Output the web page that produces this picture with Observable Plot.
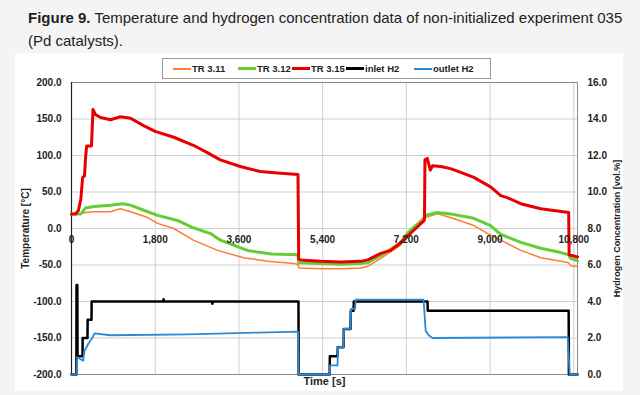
<!DOCTYPE html>
<html>
<head>
<meta charset="utf-8">
<script src="https://cdn.jsdelivr.net/npm/d3@7"></script>
<script src="https://cdn.jsdelivr.net/npm/@observablehq/plot@0.6"></script>
<style>
  html, body { margin: 0; padding: 0; background: #f4f4f4; width: 640px; height: 395px; overflow: hidden; }
  #title { position: absolute; left: 28px; top: 6px; width: 610px; font-family: "Liberation Sans", Arial, sans-serif; font-size: 15px; line-height: 23px; color: #222; white-space: nowrap; }
  #panel { position: absolute; left: 15px; top: 53px; width: 608px; height: 338px; background: #fff; }
  #legend { position: absolute; left: 162px; top: 58px; width: 327px; height: 19px; border: 1px solid #999; background: #fff;
            font-family: "Liberation Sans", Arial, sans-serif; font-size: 9.5px; font-weight: bold; color: #222; }
  .item { position: absolute; top: 0; height: 19px; display: flex; align-items: center; white-space: nowrap; }
  .sw { display: inline-block; width: 18px; height: 2px; margin-right: 1px; }
  #chart { position: absolute; left: 0; top: 78px; }
</style>
</head>
<body>
<div id="title"><b>Figure 9.</b> <span>Temperature and hydrogen concentration data of non-initialized experiment 035</span><br><span>(Pd catalysts).</span></div>
<div id="panel"></div>
<div id="legend"></div>
<div id="chart"></div>
<script>
// ---- data (time in s; temperature in °C; hydrogen in vol.%) ----
const xTicks = [0, 1800, 3600, 5400, 7200, 9000, 10800];
const tempTicks = [-200, -150, -100, -50, 0, 50, 100, 150, 200];
const h2Ticks = [0, 2, 4, 6, 8, 10, 12, 14, 16];
const seriesNames = ["TR 3.11", "TR 3.12", "TR 3.15", "inlet H2", "outlet H2"];
const seriesColors = ["#ff7d32", "#66cc33", "#e80000", "#000000", "#2b8ad8"];

const tr311 = [[0,20],[200,20],[300,22],[480,23],[840,23],[1050,27],[1270,23],[1640,15],[1850,7],[2200,0],[2620,-16],[3140,-30],[3700,-40],[4220,-45],[4780,-48],[4870,-49],[4890,-54],[5360,-55],[5790,-55],[6220,-54],[6370,-52],[6650,-41],[7070,-23],[7230,-8],[7400,5],[7550,14],[7870,20],[8150,15],[8650,4],[8950,-7],[9230,-16],[9660,-30],[10090,-40],[10520,-45],[10690,-47],[10730,-51],[10880,-52]];
const tr312 = [[0,20],[200,20],[300,28],[480,30],[840,32],[1100,34],[1270,32],[1550,25],[1850,18],[2280,11],[2620,1],[2990,-7],[3200,-16],[3780,-30],[4300,-35],[4870,-36],[4885,-47],[5360,-48],[5790,-49],[6220,-48],[6370,-47],[6650,-37],[7070,-20],[7230,-6],[7400,4],[7560,10],[7600,18],[7870,22],[8150,20],[8650,14],[9010,4],[9230,-8],[9660,-19],[10090,-27],[10520,-33],[10690,-36],[10730,-41],[10880,-44]];
const tr315 = [[0,20],[90,20],[150,25],[200,40],[240,70],[280,72],[300,95],[325,113],[430,113],[462,163],[516,156],[624,152],[840,149],[1050,153],[1270,151],[1550,141],[1800,133],[2200,125],[2620,114],[2920,104],[3200,94],[3630,85],[4060,78],[4430,76],[4870,74],[4885,-42],[4930,-43],[5360,-45],[5790,-46],[6220,-45],[6370,-43],[6650,-34],[6860,-30],[7010,-23],[7230,-10],[7400,0],[7550,9],[7590,12],[7600,94],[7650,96],[7715,80],[7765,86],[7940,85],[8150,82],[8370,77],[8650,70],[9010,57],[9230,45],[9380,42],[9660,34],[10090,27],[10450,24],[10690,22],[10700,-36],[10880,-39]];
const inletH2 = [[0,0],[105,0],[108,4.9],[125,4.9],[130,1.0],[237,1.0],[240,2.0],[344,2.0],[347,3.0],[430,3.0],[433,4.0],[1970,4.0],[1980,4.12],[1990,4.0],[3020,4.0],[3030,3.88],[3040,4.0],[4880,4.0],[4885,0],[5550,0],[5555,1.0],[5720,1.0],[5725,1.5],[5850,1.5],[5855,2.5],[6000,2.5],[6005,3.5],[6065,3.5],[6070,4.0],[7655,4.0],[7660,3.5],[10690,3.5],[10695,0],[10880,0]];
const outletH2 = [[0,0],[110,0],[122,0.95],[250,0.75],[280,1.3],[366,1.7],[445,2.0],[495,2.25],[840,2.15],[2500,2.2],[4000,2.3],[4870,2.35],[4885,0],[5550,0],[5560,0.5],[5720,0.5],[5730,1.5],[5850,1.5],[5860,2.5],[6000,2.5],[6010,3.6],[6100,3.6],[6110,4.1],[7570,4.1],[7615,2.4],[7680,2.15],[7765,2.0],[10670,2.05],[10712,0],[10880,0]];

// hydrogen (0–16 vol.%) shares the temperature scale (-200–200 °C)
const h2ToT = h => -200 + h * 25;

const fmtTime = d3.format(",");
const font = '"Liberation Sans", Arial, sans-serif';

const chart = Plot.plot({
  width: 640,
  height: 314,
  marginLeft: 71,
  marginRight: 63,
  marginTop: 4,
  marginBottom: 18,
  style: { fontFamily: font, fontSize: "10px", fontWeight: "bold", color: "#222", background: "transparent" },
  x: { domain: [0, 10880], axis: null },
  y: { domain: [-200, 200], axis: null },
  marks: [
    Plot.gridX(xTicks, { stroke: "#cfcfcf", strokeOpacity: 1 }),
    Plot.gridY(tempTicks, { stroke: "#cfcfcf", strokeOpacity: 1 }),
    Plot.frame({ stroke: "#8a8a8a" }),
    Plot.ruleX([0], { stroke: "#222", strokeWidth: 1.2 }),
    Plot.line(tr311, { x: d => d[0], y: d => d[1], stroke: seriesColors[0], strokeWidth: 1.5 }),
    Plot.line(tr312, { x: d => d[0], y: d => d[1], stroke: seriesColors[1], strokeWidth: 3 }),
    Plot.line(tr315, { x: d => d[0], y: d => d[1], stroke: seriesColors[2], strokeWidth: 3 }),
    Plot.line(inletH2, { x: d => d[0], y: d => h2ToT(d[1]), stroke: seriesColors[3], strokeWidth: 2.5 }),
    Plot.line(outletH2, { x: d => d[0], y: d => h2ToT(d[1]), stroke: seriesColors[4], strokeWidth: 1.8 }),
    Plot.text(xTicks, { x: d => d, y: 0, text: d => fmtTime(d), dy: 11 }),
    Plot.axisY(tempTicks, { anchor: "left", tickSize: 0, tickPadding: 10, tickFormat: d => d.toFixed(1), label: null }),
    Plot.axisY(h2Ticks.map(h2ToT), { anchor: "right", tickSize: 0, tickPadding: 10, tickFormat: d => ((d + 200) / 25).toFixed(1), label: null }),
    Plot.text(["Temperature [°C]"], { frameAnchor: "left", textAnchor: "middle", text: d => d, rotate: -90, dx: -46, fontSize: 10 }),
    Plot.text(["Hydrogen Concentration [vol.%]"], { frameAnchor: "right", textAnchor: "middle", text: d => d, rotate: -90, dx: 40, fontSize: 9 }),
    Plot.text(["Time [s]"], { frameAnchor: "bottom", textAnchor: "middle", text: d => d, dy: 10, fontSize: 11 })
  ]
});
document.getElementById("chart").appendChild(chart);

// legend
const legend = document.getElementById("legend");
const lefts = [10, 75, 129, 183, 251];
seriesNames.forEach((name, i) => {
  const it = document.createElement("div");
  it.className = "item";
  it.style.left = lefts[i] + "px";
  const sw = document.createElement("span");
  sw.className = "sw";
  sw.style.background = seriesColors[i];
  sw.style.height = (i === 1 || i === 2 || i === 3) ? "3px" : "2px";
  it.appendChild(sw);
  it.appendChild(document.createTextNode(name));
  legend.appendChild(it);
});
</script>
</body>
</html>
